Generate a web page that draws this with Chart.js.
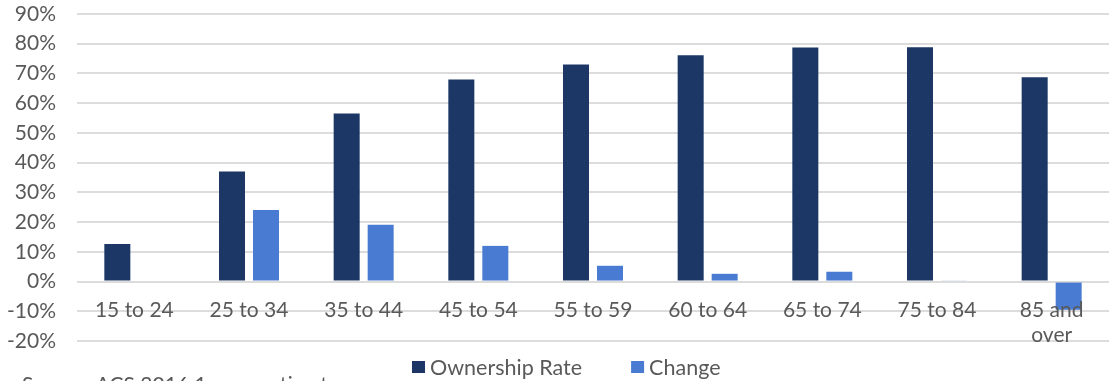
<!DOCTYPE html>
<html>
<head>
<meta charset="utf-8">
<script src="https://cdn.jsdelivr.net/npm/chart.js@4.4.0/dist/chart.umd.min.js"></script>
<style>
  html, body { margin: 0; padding: 0; background: #fff; }
  #wrap { width: 1109px; height: 381px; position: relative; }
</style>
</head>
<body>
<div id="wrap"><canvas id="chart"></canvas></div>
<script>
// ── data (percent) ─────────────────────────────────────────────────────
const categories    = ["15 to 24", "25 to 34", "35 to 44", "45 to 54", "55 to 59",
                       "60 to 64", "65 to 74", "75 to 84", ["85 and", "over"]];
const ownershipRate = [12.6, 37.0, 56.5, 68.0, 73.0, 76.1, 78.7, 78.8, 68.7];
const change        = [null, 24.1, 19.1, 12.0, 5.3, 2.6, 3.3, 0.3, -9.5];
const seriesNames   = ["Ownership Rate", "Change"];
const sourceNote    = "Source: ACS 2016 1-year estimates";

const NAVY = "#1c3766", BLUE = "#4a7bd2", TEXT = "#595959";

// category labels sit under the zero line, legend + source drawn by hand
const overlay = {
  id: "overlay",
  afterDatasetsDraw(chart) {
    const { ctx, scales: { x, y } } = chart;
    ctx.save();
    ctx.font = "21px Lato";
    ctx.fillStyle = TEXT;
    ctx.textAlign = "center";
    ctx.textBaseline = "middle";
    const y0 = y.getPixelForValue(0);
    categories.forEach((c, i) => {
      const lines = Array.isArray(c) ? c : [c];
      lines.forEach((ln, j) => ctx.fillText(ln, x.getPixelForValue(i), y0 + 29 + j * 25));
    });

    // legend
    ctx.font = "21.5px Lato";
    ctx.textAlign = "left";
    let lx = 412;
    [NAVY, BLUE].forEach((col, i) => {
      ctx.fillStyle = col;
      ctx.fillRect(lx, 361, 13, 12);
      ctx.fillStyle = TEXT;
      ctx.fillText(seriesNames[i], lx + 18, 368);
      lx += 18 + ctx.measureText(seriesNames[i]).width + 49;
    });

    // source line, clipped by the bottom edge
    ctx.font = "21px Lato";
    ctx.textBaseline = "alphabetic";
    ctx.fillText(sourceNote, 22, 392);
    ctx.restore();
  },
};

new Chart(document.getElementById("chart"), {
  type: "bar",
  data: {
    labels: categories,
    datasets: [
      { label: seriesNames[0], data: ownershipRate, backgroundColor: NAVY },
      { label: seriesNames[1], data: change, backgroundColor: BLUE },
    ],
  },
  options: {
    responsive: true, maintainAspectRatio: false, animation: false,
    devicePixelRatio: 1,
    layout: { padding: { left: 0, right: 0, top: 14, bottom: 40 } },
    datasets: { bar: { categoryPercentage: 0.593, barPercentage: 0.765 } },
    scales: {
      x: { display: false },
      y: {
        min: -20, max: 90,
        afterFit: s => { s.width = 77; s.paddingTop = 0; s.paddingBottom = 0; },
        border: { display: false },
        grid: { color: "#dcdcdc", lineWidth: 2, drawTicks: false },
        ticks: { stepSize: 10, padding: 21, color: TEXT, font: { family: "Lato", size: 21 },
                 callback: v => v + "%" },
      },
    },
    plugins: { legend: { display: false }, tooltip: { enabled: false } },
  },
  plugins: [overlay],
});
</script>
</body>
</html>
